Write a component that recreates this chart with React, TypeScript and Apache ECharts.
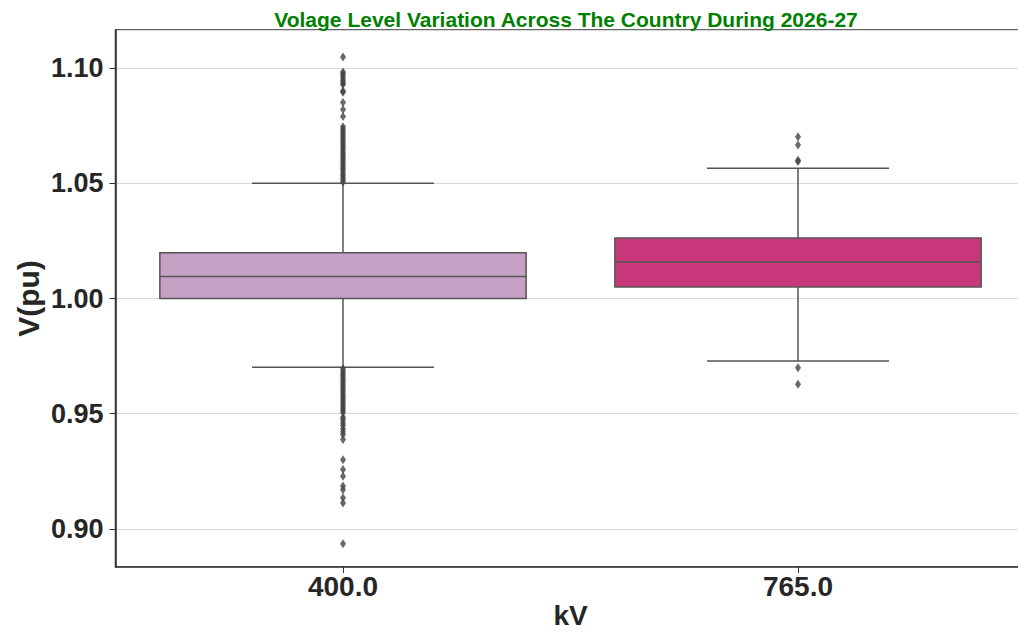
import React, { useEffect, useRef } from "react";
import * as echarts from "echarts";

const categories = ["400.0", "765.0"];
// [lowWhisker, q1, median, q3, highWhisker]
const boxStats = [
  [0.9702, 1.0, 1.0095, 1.0199, 1.05],
  [0.9729, 1.005, 1.0158, 1.0262, 1.0565],
];
const boxColors = ["#c7a0c6", "#c8377a"];
const outliers400 = [
  1.1048, 1.0983, 1.0975, 1.0965, 1.0955, 1.0945, 1.0935, 1.0928, 1.09, 1.0895,
  1.085, 1.082, 1.079, 1.0745, 1.0735, 1.0725, 1.0715, 1.0705, 1.0695, 1.0685,
  1.0675, 1.0665, 1.0655, 1.0645, 1.0635, 1.0625, 1.0615, 1.0605, 1.0595, 1.0585,
  1.0575, 1.0565, 1.0555, 1.0545, 1.0535, 1.0525, 1.0515, 1.0505,
  0.9695, 0.9685, 0.9675, 0.9665, 0.9655, 0.9645, 0.9635, 0.9625, 0.9615, 0.9605,
  0.9595, 0.9585, 0.9575, 0.9565, 0.9555, 0.9545, 0.9535, 0.9525, 0.9515, 0.9505,
  0.9485, 0.9475, 0.9462, 0.945, 0.9435, 0.9422, 0.941, 0.9388,
  0.93, 0.9258, 0.9229, 0.9186, 0.917, 0.9135, 0.9113, 0.8936,
];
const outliers765 = [1.0702, 1.0666, 1.06, 1.0594, 0.97, 0.9628];
const yTickValues = [0.9, 0.95, 1.0, 1.05, 1.1];

export default function App() {
  const ref = useRef<HTMLDivElement>(null);
  useEffect(() => {
    if (!ref.current) return;
    const chart = echarts.init(ref.current, null, { renderer: "svg" });
    const edge = "#555555";
    const font = "'Liberation Sans', Arial, sans-serif";
    const outlierData = [
      ...outliers400.map((v) => [0, v]),
      ...outliers765.map((v) => [1, v]),
    ];
    chart.setOption({
      animation: false,
      backgroundColor: "#ffffff",
      title: {
        text: "Volage Level Variation Across The Country During 2026-27",
        left: 561,
        top: 4,
        textAlign: "center",
        textStyle: {
          color: "#008000",
          fontSize: 21,
          fontWeight: "bold",
          fontFamily: font,
        },
      },
      grid: {
        left: 115.5,
        right: -7.5,
        top: 30,
        bottom: 65,
        containLabel: false,
        outerBoundsMode: "none",
        show: true,
        borderColor: "#333333",
        borderWidth: 1.5,
      },
      xAxis: {
        type: "category",
        data: categories,
        name: "kV",
        nameLocation: "middle",
        nameGap: 34,
        nameMoveOverlap: false,
        nameTextStyle: {
          fontSize: 28,
          fontWeight: "bold",
          color: "#262626",
          fontFamily: font,
        },
        axisLine: { show: true, lineStyle: { color: "#333333", width: 1.5 } },
        axisTick: { show: true, alignWithLabel: true, length: 6, lineStyle: { color: "#333333" } },
        axisLabel: {
          fontSize: 28,
          fontWeight: "bold",
          color: "#262626",
          fontFamily: font,
          margin: 5,
        },
        splitLine: { show: false },
      },
      yAxis: {
        type: "value",
        min: 0.8835,
        max: 1.1165,
        minInterval: 0.05,
        maxInterval: 0.05,
        name: "V(pu)",
        nameLocation: "middle",
        nameGap: 72,
        nameMoveOverlap: false,
        nameTextStyle: {
          fontSize: 30,
          fontWeight: "bold",
          color: "#262626",
          fontFamily: font,
        },
        axisLine: { show: true, lineStyle: { color: "#333333", width: 1.5 } },
        axisTick: {
          show: true,
          length: 6,
          lineStyle: { color: "#333333" },
        },
        axisLabel: {
          fontSize: 27,
          fontWeight: "bold",
          color: "#262626",
          fontFamily: font,
          margin: 12,
          showMinLabel: false,
          showMaxLabel: false,
          formatter: (v: number) =>
            yTickValues.some((t) => Math.abs(t - v) < 1e-6) ? v.toFixed(2) : "",
        },
        splitLine: { show: true, lineStyle: { color: "#d9d9d9", width: 1 } },
      },
      series: [
        {
          type: "custom",
          data: boxStats.map((s, i) => [i, ...s]),
          encode: { x: 0, y: [1, 2, 3, 4, 5] },
          z: 2,
          renderItem: (params: any, api: any) => {
            const x = api.value(0);
            const low = api.coord([x, api.value(1)]);
            const q1 = api.coord([x, api.value(2)]);
            const med = api.coord([x, api.value(3)]);
            const q3 = api.coord([x, api.value(4)]);
            const high = api.coord([x, api.value(5)]);
            const band = api.size([1, 0])[0];
            const bw = band * 0.805;
            const cw = band * 0.4;
            const cx = low[0];
            const ls = { stroke: edge, lineWidth: 1.5 };
            return {
              type: "group",
              children: [
                { type: "line", shape: { x1: cx, y1: high[1], x2: cx, y2: q3[1] }, style: ls },
                { type: "line", shape: { x1: cx, y1: q1[1], x2: cx, y2: low[1] }, style: ls },
                { type: "line", shape: { x1: cx - cw / 2, y1: high[1], x2: cx + cw / 2, y2: high[1] }, style: ls },
                { type: "line", shape: { x1: cx - cw / 2, y1: low[1], x2: cx + cw / 2, y2: low[1] }, style: ls },
                {
                  type: "rect",
                  shape: { x: cx - bw / 2, y: q3[1], width: bw, height: q1[1] - q3[1] },
                  style: { fill: boxColors[params.dataIndex], stroke: edge, lineWidth: 1.5 },
                },
                { type: "line", shape: { x1: cx - bw / 2, y1: med[1], x2: cx + bw / 2, y2: med[1] }, style: ls },
              ],
            };
          },
        },
        {
          type: "scatter",
          data: outlierData,
          symbol: "diamond",
          symbolSize: [6, 9],
          itemStyle: { color: "#444444" },
          z: 3,
        },
      ],
    });
    return () => chart.dispose();
  }, []);
  return (
    <div
      ref={ref}
      style={{ position: "fixed", left: 0, top: 0, width: 1018, height: 632 }}
    />
  );
}
